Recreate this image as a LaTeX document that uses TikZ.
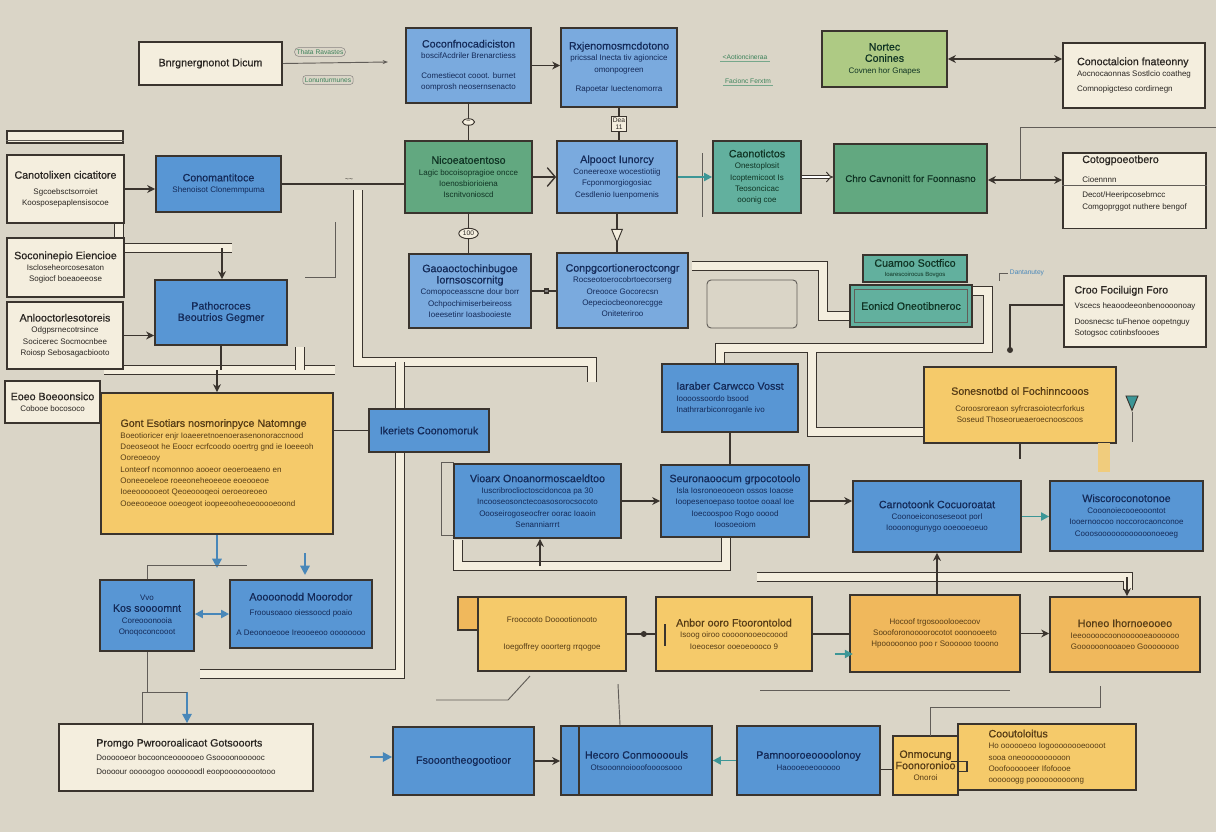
\documentclass[tikz,border=0pt]{standalone}
\usepackage{fontspec}
\setmainfont{Liberation Sans}
\newfontfamily\tfam{Liberation Sans}[FakeBold=0.6]
\usetikzlibrary{arrows.meta,shapes.geometric,calc}
\definecolor{bg}{RGB}{218,213,199}
\definecolor{bfill}{RGB}{88,150,212}
\definecolor{lbfill}{RGB}{122,170,222}
\definecolor{gfill}{RGB}{98,168,128}
\definecolor{tfill}{RGB}{98,176,158}
\definecolor{lgfill}{RGB}{174,202,132}
\definecolor{yfill}{RGB}{245,202,106}
\definecolor{ofill}{RGB}{240,184,92}
\definecolor{cream}{RGB}{244,238,222}
\definecolor{edge}{RGB}{58,52,46}
\definecolor{btext}{RGB}{20,42,88}
\definecolor{ytext}{RGB}{86,60,22}
\definecolor{ctext}{RGB}{42,38,34}
\definecolor{gtext}{RGB}{16,52,36}
\definecolor{lgreen}{RGB}{60,130,90}
\definecolor{arrblue}{RGB}{72,135,185}
\definecolor{arrteal}{RGB}{60,150,150}
\newcommand\ttl{\tfam\fontsize{8}{10}\selectfont}
\newcommand\bxn[7]{\node[#2, minimum width={(#5-#3)*0.75pt}, minimum height={(#6-#4)*0.75pt}] (#1) at ({(#3+#5)/2},{(#4+#6)/2}) {#7};}
\begin{document}
\begin{tikzpicture}[x=0.75pt,y=-0.75pt,
  box/.style={draw=edge, line width=1.3pt, inner sep=2pt, align=center, font=\fontsize{6}{8.5}\selectfont},
  bbox/.style={box, fill=bfill, text=btext},
  lbbox/.style={box, fill=lbfill, text=btext},
  gbox/.style={box, fill=gfill, text=gtext},
  tbox/.style={box, fill=tfill, text=gtext},
  lgbox/.style={box, fill=lgfill, text=gtext},
  ybox/.style={box, fill=yfill, text=ytext},
  obox/.style={box, fill=ofill, text=ytext},
  cbox/.style={box, fill=cream, text=ctext},
  pipe/.style={draw=edge, line width=0.8pt, double=cream, double distance=5.5pt},
  conn/.style={draw=edge, line width=1.1pt},
  thinc/.style={draw=edge!80, line width=0.7pt},
  arr/.style={conn, -{Stealth[length=6pt,width=6pt]}},
  barr/.style={draw=arrblue, line width=1.6pt, -{Triangle[length=7pt,width=7pt]}},
  tarr/.style={draw=arrteal, line width=1.4pt, -{Triangle[length=6pt,width=6pt]}},
  lbl/.style={font=\fontsize{5}{6}\selectfont, text=lgreen, inner sep=1.5pt},
  oval/.style={ellipse, draw=edge, fill=cream, line width=0.7pt, inner sep=1pt, font=\fontsize{5}{6}\selectfont, text=ctext},
  tagbox/.style={draw=edge, fill=cream, line width=0.7pt, inner sep=1pt, align=center, font=\fontsize{5}{5.5}\selectfont, text=ctext},
  funnel/.style={isosceles triangle, shape border rotate=-90, draw=edge, fill=cream, line width=0.7pt, minimum size=8pt, inner sep=0pt},
  dot/.style={circle, fill=edge, inner sep=1.6pt}
]
\fill[bg] (0,0) rectangle (1216,832);
\useasboundingbox (0,0) rectangle (1216,832);

% ---------- pipes ----------
\draw[pipe] (119,224) -- (119,248) -- (232,248);
\draw[pipe] (104,370) -- (335,370);
\draw[pipe] (358,190) -- (358,362) -- (592,362) -- (592,382);
\draw[pipe] (400,362) -- (400,409);
\draw[pipe] (400,453) -- (400,674) -- (200,674);
\draw[pipe] (458,540) -- (458,566) -- (726,566) -- (726,538);
\draw[pipe] (757,577) -- (1128,577) -- (1128,590);
\draw[pipe] (692,266) -- (823,266) -- (823,316) -- (850,316);
\draw[pipe] (972,291) -- (988,291) -- (988,348) -- (720,348) -- (720,364);
\draw[pipe] (812,352) -- (812,432) -- (924,432);
\draw[pipe] (300,347) -- (300,370);

% decorative frames
\draw[thinc, rounded corners=3pt] (707,280) rectangle (797,328);
\draw[thinc] (441,462) rectangle (453,535);
\draw[thinc] (702,153) -- (702,217);
\draw[thinc] (335,222) -- (335,277) -- (305,277);

% ---------- row 1 ----------
\bxn{n1}{cbox}{139}{42}{282}{85}{{\ttl Bnrgnergnonot Dicum}}
\node[lbl, draw=edge!60, rounded corners=3pt] (l1) at (320,52) {Thata Ravastes};
\node[lbl, draw=edge!60, rounded corners=2pt] (l2) at (328,80) {Lonunturmunes};
\coordinate (c1) at (388,62);
\draw[thinc, -{Stealth[length=4pt]}] (n1.east) -- (c1);
\bxn{n2}{lbbox}{406}{28}{531}{103}{{\ttl Coconfnocadiciston}\\ boscifAcdriler Brenarctiess\\[6pt] Comestiecot cooot. burnet\\ oomprosh neosernsenacto}
\bxn{n3}{lbbox}{561}{28}{677}{107}{{\ttl Rxjenomosmcdotono}\\ pricssal Inecta tiv agioncice\\ omonpogreen\\[6pt] Rapoetar Iuectenomorra}
\node[lbl] (l3) at (745,57) {\textless Aotioncineraa};
\draw[draw=lgreen!70, line width=0.6pt] (l3.south west) -- (l3.south east);
\node[lbl] (l4) at (748,81) {Facionc Ferxtm};
\draw[draw=lgreen!70, line width=0.6pt] (l4.south west) -- (l4.south east);
\bxn{n5}{lgbox}{822}{31}{947}{87}{{\ttl Nortec}\\{\ttl Conines}\\ Covnen hor Gnapes}
\bxn{n6}{cbox, align=left}{1063}{43}{1205}{108}{{\ttl Conoctalcion fnateonny}\\ Aocnocaonnas Sostlcio coatheg\\[3pt] Comnopigcteso cordirnegn}

% ---------- row 2 ----------
\bxn{n7}{cbox}{7}{131}{123}{143}{}
\draw[thinc] ([yshift=-2.5pt]n7.west) -- ([yshift=-2.5pt]n7.east);
\bxn{n8}{cbox}{7}{155}{124}{223}{{\ttl Canotolixen cicatitore}\\[3pt] Sgcoebsctsorroiet\\ Koosposepaplensisocoe}
\bxn{n9}{bbox}{156}{156}{281}{212}{{\ttl Conomantitoce}\\ Shenoisot Clonemmpuma}
\bxn{n10}{gbox}{405}{141}{532}{213}{{\ttl Nicoeatoentoso}\\ Lagic bocoisopragioe oncce\\ Ioenosbiorioiena\\ Iscnitvonioscd}
\bxn{n11}{lbbox}{557}{141}{677}{213}{{\ttl Alpooct Iunorcy}\\ Coneereoxe wocestiotiig\\ Fcponmorgiogosiac\\ Cesdlenio Iuenpomenis}
\bxn{n12}{tbox}{713}{141}{801}{213}{{\ttl Caonotictos}\\ Onestoplosit\\ Icoptemicoot Is\\ Teosoncicac\\ ooonig coe}
\bxn{n13}{gbox}{834}{144}{987}{213}{{\tfam\fontsize{7.3}{9}\selectfont Chro Cavnonitt for Foonnasno}}
\bxn{n14}{cbox, align=left}{1063}{153}{1206}{228}{{\ttl Cotogpoeotbero}\\[6pt] Cioennnn\\[3pt] Decot/Heeripcosebrncc\\ Comgoprggot nuthere bengof\\[4pt]}
\draw[thinc] ([yshift=-25pt]n14.north west) -- ([yshift=-25pt]n14.north east);

% ---------- row 3 ----------
\bxn{n15}{cbox}{7}{238}{124}{297}{{\ttl Soconinepio Eiencioe}\\ Iscloseheorcosesaton\\ Sogiocf boeaoeeose}
\bxn{n16}{cbox}{7}{302}{123}{369}{{\ttl Anlooctorlesotoreis}\\ Odgpsrnecotrsince\\ Socicerec Socmocnbee\\ Roiosp Sebosagacbiooto}
\bxn{n17}{bbox}{155}{280}{287}{345}{{\ttl Pathocroces}\\{\ttl Beoutrios Gegmer}}
\bxn{n18}{lbbox}{409}{254}{531}{328}{{\ttl Gaoaoctochinbugoe}\\{\ttl Iornsoscornitg}\\ Comopoceasscne dour borr\\ Ochpochimiserbeireoss\\ Ioeesetinr Ioasbooieste}
\bxn{n19}{lbbox}{557}{253}{688}{328}{{\ttl Conpgcortioneroctcongr}\\ Rocseotoerocobrtoecorserg\\ Oreooce Gocorecsn\\ Oepeciocbeonorecgge\\ Oniteteriroo}
\bxn{n20}{tbox}{863}{255}{967}{282}{{\ttl Cuamoo Soctfico}\\[-1pt] {\fontsize{4.5}{5}\selectfont Ioarescoirocus Bovgos}}
\bxn{n21}{tbox}{850}{285}{972}{327}{{\ttl Eonicd Oneotibneroc}}
\draw[thinc] ([shift={(4pt,-4pt)}]n21.north west) rectangle ([shift={(-4pt,4pt)}]n21.south east);
\node[lbl, text=arrblue] (l6) at (1027,273) {Dantanutey};
\draw[thinc] (l6.west) -- ++(-8,0) -- ++(0,8);
\bxn{n23}{cbox, align=left}{1064}{276}{1206}{347}{{\ttl Croo Fociluign Foro}\\[3pt] Vscecs heaoodeeonbenoooonoay\\[3pt] Doosnecsc tuFhenoe oopetnguy\\ Sotogsoc cotinbsfoooes}

% ---------- row 4 ----------
\bxn{n24}{cbox}{5}{381}{100}{423}{{\ttl Eoeo Boeoonsico}\\ Cobooe bocosoco}
\bxn{n25}{ybox, align=left}{101}{393}{333}{534}{{\ttl Gont Esotiars nosmorinpyce Natomnge}\\ Boeotioricer enjr Ioaeeretnoenoerasenonoraccnood\\ Doeoseoot he Eoocr ecrfcoodo ooertrg gnd ie Ioeeeoh\\ Ooreoeooy\\ Lonteorf ncomonnoo aooeor oeoeroeaeno en\\ Ooneeoeleoe roeeoneheoeeoe eoeooeoe\\ Ioeeoooooeot Qeoeoooqeoi oeroeoreoeo\\ Ooeeooeooe ooeogeot ioopeeooheoeooooeoond}
\bxn{n26}{bbox}{369}{409}{489}{452}{{\ttl Ikeriets Coonomoruk}}
\bxn{n27}{bbox, align=left}{662}{364}{798}{432}{{\ttl Iaraber Carwcco Vosst}\\ Ioooossoordo bsood\\ Inathrrarbiconroganle ivo}
\bxn{n28}{ybox}{924}{367}{1116}{443}{{\ttl Sonesnotbd ol Fochinncooos}\\[4pt] Coroosroreaon syfrcrasoiotecrforkus\\ Soseud Thoseorueaeroecnooscoos}
\node[funnel, fill=arrteal, minimum size=9pt] (pin) at (1132,400) {};
\draw[thinc] (pin.south) -- ++(0,30);
\fill[yfill!80!bg] (1098,443) rectangle (1110,472);

% ---------- row 5 ----------
\bxn{n29}{bbox}{454}{464}{621}{538}{{\ttl Vioarx Onoanormoscaeldtoo}\\ Iuscribroclioctoscidoncoa pa 30\\ Incooseosonctecoasosorocsocoto\\ Oooseirogoseocfrer oorac Ioaoin\\ Senanniarrrt}
\bxn{n30}{bbox}{661}{465}{809}{537}{{\ttl Seuronaoocum grpocotoolo}\\ Isla Iosronoeooeon ossos Ioaose\\ Ioopesenoepaso tootoe ooaal Ioe\\ Ioecoospoo Rogo ooood\\ Ioosoeoiom}
\bxn{n31}{bbox}{853}{481}{1021}{552}{{\ttl Carnotoonk Cocuoroatat}\\ Coonoeiconoseseoot porl\\ Ioooonogunygo ooeooeoeuo}
\bxn{n32}{bbox}{1050}{481}{1203}{551}{{\ttl Wiscoroconotonoe}\\ Cooonoiecooeooontot\\ Iooernoocoo noccorocaonconoe\\ Cooosoooooooooooonoeoeg}

% ---------- row 6 ----------
\bxn{n33}{bbox}{100}{580}{194}{651}{Vvo\\{\ttl Kos soooomnt}\\ Coreooonooia\\ Onoqoconcooot}
\bxn{n34}{bbox}{230}{580}{372}{648}{{\ttl Aoooonodd Moorodor}\\[3pt] Froousoaoo oiessoocd poaio\\[6pt] A Deoonoeooe Ireooeeoo oooooooo}
\bxn{n35}{obox}{458}{597}{480}{630}{}
\bxn{n36}{ybox}{478}{597}{626}{671}{Froocooto Dooootionooto\\[12pt] Ioegoffrey ooorterg rrqogoe}
\bxn{n37}{ybox}{656}{597}{812}{671}{{\ttl Anbor ooro Ftoorontolod}\\ Isoog oiroo coooonooeocoood\\ Ioeocesor ooeoeoooco 9}
\bxn{n38}{obox}{850}{595}{1020}{672}{Hocoof trgosooolooecoov\\ Soooforonoooorocotot ooonooeeto\\ Hpooooonoo poo r Soooooo tooono}
\bxn{n39}{obox}{1050}{597}{1200}{672}{{\ttl Honeo Ihornoeooeo}\\ Ieeooooocoonoooooeaoooooo\\ Goooooonooaoeo Goooooooo}

% ---------- row 7 ----------
\bxn{n40}{cbox, align=left}{59}{724}{313}{791}{{\ttl Promgo Pwrooroalicaot Gotsooorts}\\[2pt] Doooooeor bocoonceoooooeo Gsoooonoooooc\\[2pt] Doooour ooooogoo ooooooodl eoopooooooootooo}
\bxn{n41}{bbox}{393}{727}{534}{795}{{\ttl Fsooontheogootioor}}
\bxn{n42}{bbox}{561}{726}{712}{795}{{\ttl Hecoro Conmoooouls}\\ Otsooonnoiooofoooosooo}
\draw[draw=edge, line width=1.1pt] ([xshift=14pt]n42.north west) -- ([xshift=14pt]n42.south west);
\bxn{n43}{bbox}{737}{726}{880}{795}{{\ttl Pamnooroeoooolonoy}\\ Haoooeoeoooooo}
\bxn{n44}{ybox}{893}{736}{958}{795}{{\ttl Onmocung}\\{\ttl Foonoronioo}\\ Onoroi}
\bxn{n45}{ybox, align=left}{958}{724}{1136}{790}{{\ttl Cooutoloitus}\\ Ho oooooeoo Iogoooooooeoooot\\ sooa oneoooooooooon\\ Ooofoooooeer Ifofoooe\\ oooooogg poooooooooong}

% ---------- connectors ----------
\draw[arr] (n2.east) -- (n2.east -| n3.west);
\draw[arr, {Stealth[length=6pt,width=6pt]}-{Stealth[length=6pt,width=6pt]}] (n5.east) -- (n5.east -| n6.west);
\draw[conn] (n2.south) -- node[oval] (e1) {\,--\,} (n10.north);
\draw[conn] (n3.south) -- node[tagbox] (e2) {Dea\\11} (n3.south |- n11.north);
\draw[arr] (n8.east) -- (n8.east -| n9.west);
\draw[conn] (n9.east) -- node[lbl, text=ctext, above, pos=0.55] (l5) {\textasciitilde\textasciitilde} (n9.east -| n10.west);
\draw[draw=edge, line width=1pt, -{Straight Barb[length=6pt,width=14pt]}] (n10.east) -- (n10.east -| n11.west);
\draw[tarr] (n11.east) -- (n11.east -| n12.west);
\draw[draw=edge, line width=0.7pt, double, double distance=2pt, -{Implies}] (n12.east) -- (n12.east -| n13.west);
\coordinate (j1) at (1020,180);
\coordinate (j2) at (1020,127);
\coordinate (j3) at (1216,127);
\draw[arr] (j1) -- (j1 -| n13.east);
\draw[arr] (j1) -- (j1 -| n14.west);
\draw[thinc] (j1) -- (j2) -- (j3);
\draw[conn] (n10.south) -- node[oval] (e3) {100} (n10.south |- n18.north);
\draw[conn] (n11.south) -- node[funnel] (e4) {} (n11.south |- n19.north);
\draw[conn] (n18.east) -- node[draw=edge, fill=edge!60, inner sep=1.5pt, pos=0.6] (s1) {} (n18.east -| n19.west);
\draw[arr] (n16.east) -- (n16.east -| n17.west);
\coordinate (p1e) at (222,248);
\draw[arr] (p1e) -- (p1e |- n17.north);
\coordinate (p2c) at (221,370);
\draw[conn] (n17.south) -- (n17.south |- p2c);
\draw[arr] (n25.north |- p2c) -- (n25.north);
\draw[conn] (n25.east |- n26.west) -- (n26.west);
\coordinate (b1) at (221,568);
\draw[barr] (n25.south) -- (n25.south |- b1);
\coordinate (b2a) at (305,553);
\coordinate (b2b) at (305,575);
\draw[barr] (b2a) -- (b2b);
\draw[thinc] (n33.north) -- ++(0,-14) -- ++(100,0);
\draw[barr, {Triangle[length=6pt,width=6pt]}-{Triangle[length=6pt,width=6pt]}] (n33.east |- n34.west) -- (n34.west);
\draw[thinc] (n33.south) -- ++(0,40);
\coordinate (c40) at (187,692);
\coordinate (c40b) at (142,692);
\draw[barr] (c40) -- (c40 |- n40.north);
\draw[thinc] (c40) -- (c40b) -- (c40b |- n40.north);
\coordinate (c41) at (370,757);
\draw[barr] (c41) -- (c41 -| n41.west);
\draw[arr] (n41.east) -- (n41.east -| n42.west);
\draw[tarr] (n43.west) -- (n43.west -| n42.east);
\draw[conn] (n44.east) ++(-8,-4) -- ++(16,0) -- ++(0,10) -- ++(-10,0);
\draw[conn] (n44.west) ++(-12,4) -- ++(12,0);
\draw[conn] (n36.east) -- node[dot, pos=0.6] (d1) {} (n36.east -| n37.west);
\draw[conn] (n37.west) ++(10,-10) -- ++(0,22);
\draw[conn] (n37.east) -- (n37.east -| n38.west);
\draw[tarr] ([yshift=-15pt]n37.east) ++(22,0) -- ++(18,0);
\draw[arr] (n38.east) -- (n38.east -| n39.west);
\draw[arr] (n29.east) -- (n29.east -| n30.west);
\draw[arr] (n30.east) -- (n30.east -| n31.west);
\draw[tarr] (n31.east) -- (n31.east -| n32.west);
\coordinate (c29) at (540,566);
\draw[arr] (c29) -- (c29 |- n29.south);
\coordinate (c31) at (937,577);
\draw[arr] (c31) -- (c31 |- n31.south);
\draw[conn] (c31) -- (c31 |- n38.north);
\coordinate (c39) at (1127,577);
\draw[arr] (c39) -- (c39 |- n39.north);
\draw[conn] (n27.south) -- (n27.south |- n30.north);
\coordinate (c23) at (1010,305);
\coordinate (c23b) at (1010,350);
\draw[conn] (c23 -| n23.west) -- (c23) -- (c23b);
\node[dot] (d2) at (c23b) {};
\draw[conn] (n28.south) -- ++(0,15);
% bottom thin wires
\coordinate (w1) at (436,700);
\coordinate (w2) at (508,700);
\coordinate (w3) at (530,676);
\draw[thinc] (w1) -- (w2) -- (w3);
\coordinate (w4) at (618,684);
\coordinate (w5) at (620,725);
\draw[thinc] (w4) -- (w5);
\coordinate (w6) at (930,736);
\coordinate (w7) at (930,707);
\coordinate (w8) at (1100,707);
\coordinate (w9) at (1100,686);
\draw[thinc] (w6) -- (w7) -- (w8) -- (w9);
\coordinate (w10) at (760,690);
\coordinate (w11) at (1010,690);
\draw[thinc] (w10) -- (w11);
\end{tikzpicture}
\end{document}
